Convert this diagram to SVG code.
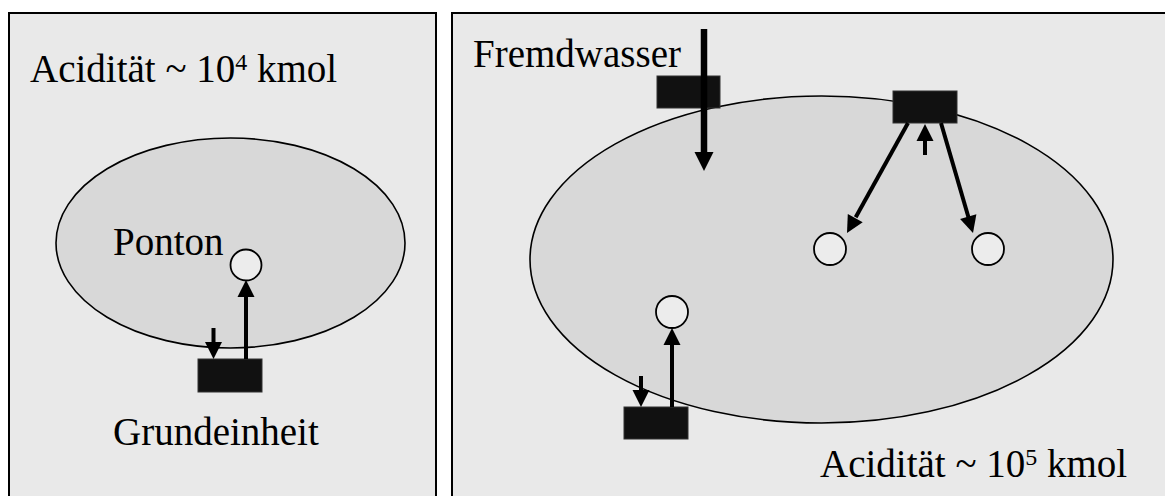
<svg xmlns="http://www.w3.org/2000/svg" width="1165" height="496" viewBox="0 0 1165 496">
  <style>
    .panel { fill: #e9e9e9; stroke: #000; stroke-width: 2; }
    .blob { fill: #d8d8d8; stroke: #000; stroke-width: 1.6; }
    .pont { fill: #ececec; stroke: #000; stroke-width: 1.8; }
    .unit { fill: #111; stroke: #333; stroke-width: 1; }
    .lbl { font-family: "Liberation Serif", "Times New Roman", serif; font-size: 39px; fill: #000; }
    .arr { stroke: #000; stroke-width: 4; fill: none; }
    .arrBig { stroke: #000; stroke-width: 6.5; fill: none; }
    .head { fill: #000; stroke: none; }
  </style>
  <rect width="1165" height="496" fill="#fff"/>

  <g id="panel-left">
    <rect class="panel" x="9" y="13" width="427" height="500"/>
    <ellipse class="blob" cx="230.5" cy="243" rx="174.5" ry="105"/>
    <text class="lbl" x="30" y="82" font-family="Liberation Serif, serif">Acidität ~ 10<tspan font-size="24" dy="-12">4</tspan><tspan dy="12"> kmol</tspan></text>
  </g>
  <g id="panel-right">
    <rect class="panel" x="452" y="13" width="730" height="500"/>
    <ellipse class="blob" cx="821.5" cy="259.5" rx="291.5" ry="163.5"/>
    <text class="lbl" x="820" y="477" font-family="Liberation Serif, serif">Acidität ~ 10<tspan font-size="24" dy="-12">5</tspan><tspan dy="12"> kmol</tspan></text>
    <text class="lbl" x="473" y="67" font-family="Liberation Serif, serif">Fremdwasser</text>
  </g>

  <g id="ponton-left">
    <circle class="pont" cx="246" cy="265" r="15.5"/>
    <text class="lbl" x="113" y="255" font-family="Liberation Serif, serif">Ponton</text>
  </g>
  <g id="grundeinheit-left">
    <rect class="unit" x="198" y="359" width="64" height="33"/>
    <text class="lbl" x="113" y="445" font-family="Liberation Serif, serif">Grundeinheit</text>
  </g>
  <g id="ponton-r1"><circle class="pont" cx="672" cy="312" r="16"/></g>
  <g id="ponton-r2"><circle class="pont" cx="830" cy="249" r="16"/></g>
  <g id="ponton-r3"><circle class="pont" cx="988" cy="249" r="16"/></g>
  <g id="unit-fremdwasser"><rect class="unit" x="657" y="76" width="63" height="32"/></g>
  <g id="unit-top"><rect class="unit" x="893" y="91" width="64" height="32"/></g>
  <g id="unit-bottom"><rect class="unit" x="624" y="407" width="64" height="32"/></g>

  <g id="connectors">
    <line class="arr" x1="246" y1="359" x2="246" y2="296"/>
    <polygon class="head" points="237.5,297 246,280 254.5,297"/>
    <line class="arr" x1="213.5" y1="328" x2="213.5" y2="343"/>
    <polygon class="head" points="205,342 213.5,359 222,342"/>
    <line class="arrBig" x1="704" y1="29" x2="704" y2="153"/>
    <polygon class="head" points="694.5,152 704,171 713.5,152"/>
    <line class="arr" x1="925" y1="155" x2="925" y2="140"/>
    <polygon class="head" points="916.5,141 925,124 933.5,141"/>
    <line class="arr" x1="908" y1="123" x2="855.7" y2="217.2"/>
    <polygon class="head" points="862.7,222.2 847,233 847.8,214.0"/>
    <line class="arr" x1="941" y1="123" x2="968.6" y2="217.7"/>
    <polygon class="head" points="976.4,214.3 973,233 960.1,219.1"/>
    <line class="arr" x1="672" y1="407" x2="672" y2="344"/>
    <polygon class="head" points="663.5,345 672,328 680.5,345"/>
    <line class="arr" x1="641" y1="376" x2="641" y2="391"/>
    <polygon class="head" points="632.5,390 641,407 649.5,390"/>
  </g>
</svg>
